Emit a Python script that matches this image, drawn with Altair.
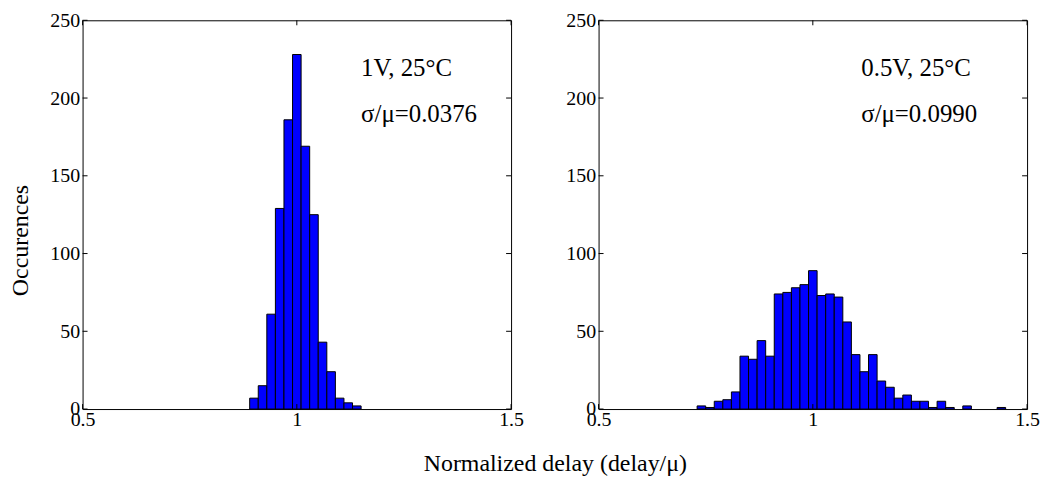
import altair as alt
import pandas as pd

# ---- data ----
bin_width = 0.02
left_centers = [0.90, 0.92, 0.94, 0.96, 0.98, 1.00, 1.02, 1.04, 1.06, 1.08, 1.10, 1.12, 1.14]
left_counts = [7, 15, 61, 129, 186, 228, 169, 125, 43, 24, 7, 4, 2]

right_centers = [0.74, 0.76, 0.78, 0.80, 0.82, 0.84, 0.86, 0.88, 0.90, 0.92, 0.94, 0.96,
                 0.98, 1.00, 1.02, 1.04, 1.06, 1.08, 1.10, 1.12, 1.14, 1.16, 1.18, 1.20,
                 1.22, 1.24, 1.26, 1.28, 1.30, 1.32, 1.34, 1.36, 1.38, 1.40, 1.42, 1.44]
right_counts = [2, 1, 5, 6, 11, 34, 32, 44, 34, 74, 75, 78,
                80, 89, 73, 74, 72, 56, 35, 24, 35, 18, 14, 7,
                9, 5, 5, 1, 5, 1, 0, 2, 0, 0, 0, 1]

x_ticks = [0.5, 1.0, 1.5]
y_ticks = [0, 50, 100, 150, 200, 250]

left_text = ["1V, 25°C", "σ/μ=0.0376"]
right_text = ["0.5V, 25°C", "σ/μ=0.0990"]
left_text_x = [1.15, 1.15]
right_text_x = [1.113, 1.113]
text_y = [219, 190]

FONT = "Liberation Serif"
W, H = 431, 391


def panel(centers, counts, texts, tx, first):
    bars = pd.DataFrame({
        "lo": [c - bin_width / 2 for c in centers],
        "hi": [c + bin_width / 2 for c in centers],
        "n": counts,
    })
    bars = bars[bars["n"] > 0]
    xs = alt.Scale(domain=[0.5, 1.5], nice=False, zero=False)
    ys = alt.Scale(domain=[0, 250], nice=False)

    ykw = dict(values=y_ticks, ticks=False, domain=False, grid=False,
               labelFont=FONT, labelFontSize=20, labelColor="black", labelPadding=3,
               labelFlush=False)
    xkw = dict(values=x_ticks, ticks=False, domain=False, grid=False,
               format=".1~f", labelFont=FONT, labelFontSize=20,
               labelColor="black", labelPadding=1, labelFlush=False)
    if first:
        yaxis = alt.Axis(title="Occurences", titleFont=FONT, titleFontSize=24,
                         titleFontWeight="normal", titleColor="black",
                         titlePadding=17, titleY=221, **ykw)
        xaxis = alt.Axis(title="Normalized delay (delay/μ)", titleFont=FONT,
                         titleFontSize=24, titleFontWeight="normal",
                         titleColor="black", titleX=475, titleY=62,
                         titleAlign="center", titleBaseline="alphabetic", **xkw)
    else:
        yaxis = alt.Axis(title=None, **ykw)
        xaxis = alt.Axis(title=None, **xkw)

    b = alt.Chart(bars).mark_rect(color="#0000ff", stroke="black", strokeWidth=1).encode(
        x=alt.X("lo:Q", scale=xs, axis=xaxis),
        x2="hi:Q",
        y=alt.Y("n:Q", scale=ys, axis=yaxis),
        y2=alt.datum(0),
    )

    yt = pd.DataFrame({"v": y_ticks})
    xt = pd.DataFrame({"v": x_ticks})
    tl = alt.Chart(yt).mark_rule(color="black", strokeWidth=1).encode(
        y=alt.Y("v:Q", scale=ys), x=alt.value(0), x2=alt.value(5))
    tr = alt.Chart(yt).mark_rule(color="black", strokeWidth=1).encode(
        y=alt.Y("v:Q", scale=ys), x=alt.value(W - 5), x2=alt.value(W))
    tb = alt.Chart(xt).mark_rule(color="black", strokeWidth=1).encode(
        x=alt.X("v:Q", scale=xs), y=alt.value(H), y2=alt.value(H - 5))
    tt = alt.Chart(xt).mark_rule(color="black", strokeWidth=1).encode(
        x=alt.X("v:Q", scale=xs), y=alt.value(0), y2=alt.value(5))

    ann = pd.DataFrame({"t": texts, "x": tx, "y": text_y})
    txt = alt.Chart(ann).mark_text(font=FONT, fontSize=25, align="left",
                                   baseline="middle", color="black").encode(
        x=alt.X("x:Q", scale=xs), y=alt.Y("y:Q", scale=ys), text="t:N")

    return alt.layer(b, tl, tr, tb, tt, txt).properties(width=W, height=H)


left = panel(left_centers, left_counts, left_text, left_text_x, True)
right = panel(right_centers, right_counts, right_text, right_text_x, False)

chart = alt.hconcat(left, right, spacing=88, bounds="flush").properties(
    padding={"left": 0, "top": 0, "right": 0, "bottom": 0},
    background="white",
).configure_view(stroke="black", strokeWidth=1)

chart.save("out.html", embed_options={"renderer": "svg", "actions": False})
